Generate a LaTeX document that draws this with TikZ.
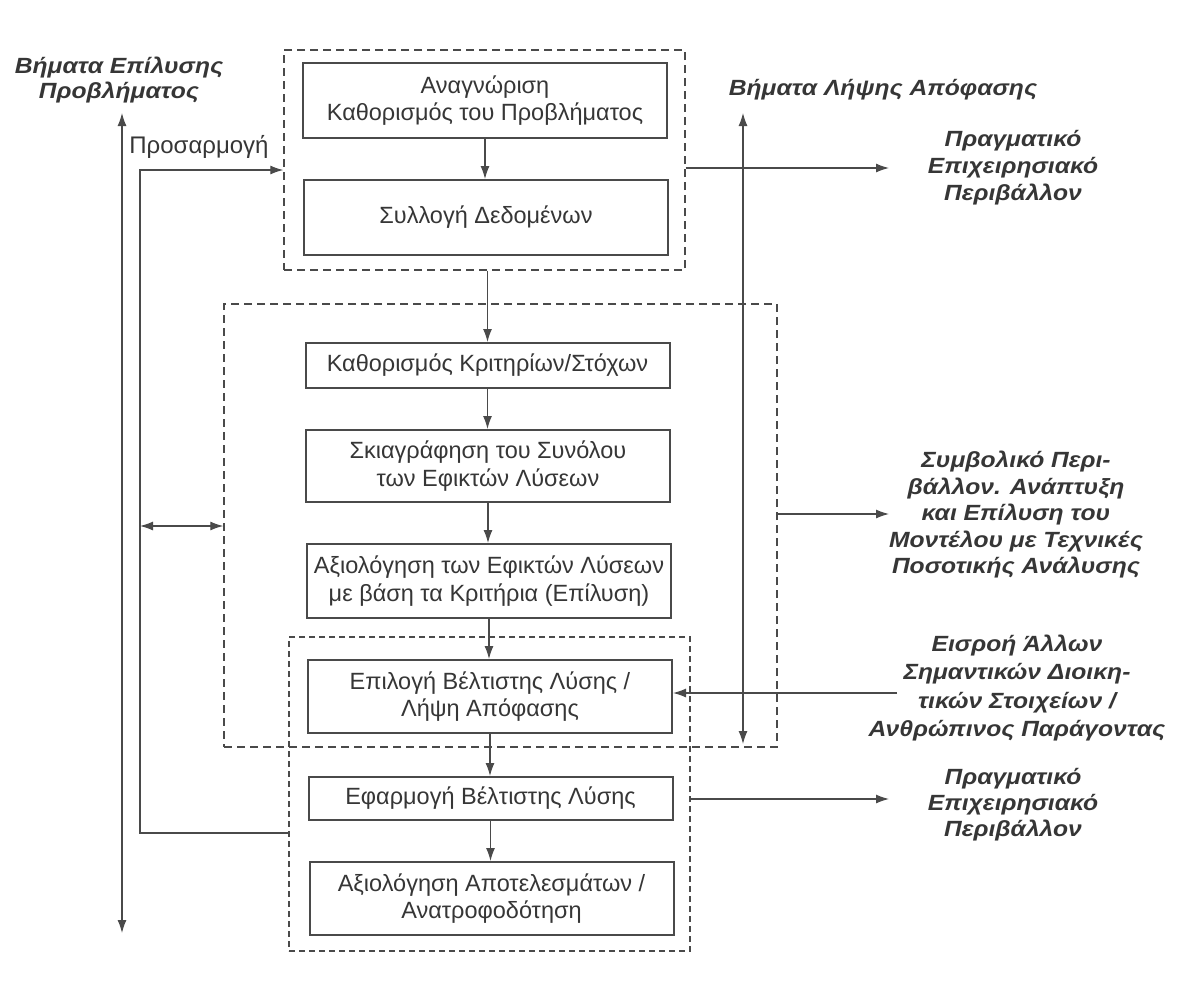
\documentclass[tikz,border=0pt]{standalone}
\usepackage{fontspec}
\setmainfont{Liberation Sans}
\newfontfamily\lblfont{Liberation Sans}[FakeStretch=1.12]
\usetikzlibrary{arrows.meta}
\definecolor{ink}{HTML}{363636}
\definecolor{edge}{HTML}{4A4A4A}
\tikzset{
  stepbox/.style={draw=edge, line width=2pt, minimum width=364pt, inner sep=1pt,
    align=center, font=\fontsize{23.5}{27.5}\selectfont, text=ink},
  grp/.style={draw=edge, line width=1.4pt, dash pattern=on 8pt off 5pt, inner sep=0pt},
  conn/.style={draw=edge, line width=1.2pt},
  tip/.style={-{Latex[length=13pt,width=9pt]}},
  both/.style={{Latex[length=13pt,width=9pt]}-{Latex[length=13pt,width=9pt]}},
  lbl/.style={font=\lblfont\bfseries\itshape\fontsize{22}{27}\selectfont, text=ink, align=center},
}
\begin{document}
\begin{tikzpicture}[x=1pt,y=-1pt]
\useasboundingbox[fill=white] (0,0) rectangle (1184,996);

% dashed groups
\node[grp, minimum width=401pt, minimum height=220pt] (g1) at (484.5,160) {};
\node[grp, minimum width=553pt, minimum height=443pt] (g2) at (500.5,525.5) {};
\node[grp, minimum width=401pt, minimum height=314pt, dash pattern=on 6pt off 4pt] (g3) at (489.5,794) {};

% steps
\node[stepbox, minimum height=75pt] (A) at (485,100.5) {Αναγνώριση\\Καθορισμός του Προβλήματος};
\node[stepbox, minimum height=75pt] (B) at (486,217.5) {Συλλογή Δεδομένων};
\node[stepbox, minimum height=45pt] (C) at (487.5,365.5) {Καθορισμός Κριτηρίων/Στόχων};
\node[stepbox, minimum height=72pt] (D) at (488,466) {Σκιαγράφηση του Συνόλου\\των Εφικτών Λύσεων};
\node[stepbox, minimum height=74pt] (E) at (489,581) {Αξιολόγηση των Εφικτών Λύσεων\\με βάση τα Κριτήρια (Επίλυση)};
\node[stepbox, minimum height=73pt] (F) at (490,696.5) {Επιλογή Βέλτιστης Λύσης /\\Λήψη Απόφασης};
\node[stepbox, minimum height=43pt] (G) at (490.5,798.5) {Εφαρμογή Βέλτιστης Λύσης};
\node[stepbox, minimum height=73pt] (H) at (491.5,898.5) {Αξιολόγηση Αποτελεσμάτων /\\Ανατροφοδότηση};

% vertical flow
\draw[conn,tip] (A.south) -- (A.south |- B.north);
\draw[conn,tip] (C.north |- g1.south) -- (C.north);
\draw[conn,tip] (C.south) -- (C.south |- D.north);
\draw[conn,tip] (D.south) -- (D.south |- E.north);
\draw[conn,tip] (E.south) -- (E.south |- F.north);
\draw[conn,tip] (F.south) -- (F.south |- G.north);
\draw[conn,tip] (G.south) -- (G.south |- H.north);

% left side
\coordinate (L1t) at (122,113);
\coordinate (L1b) at (122,933);
\draw[conn,both] (L1t) -- (L1b);
\coordinate (P1) at (140,833);
\coordinate (P2) at (140,170);
\draw[conn,tip] (g3.west |- P1) -- (P1) -- (P2) -- (g1.west |- P2);
\coordinate (L2m) at (140,526);
\draw[conn,both] (L2m) -- (g2.west |- L2m);

% right side
\coordinate (Rt) at (743,113);
\coordinate (Rb) at (743,744);
\draw[conn,both] (Rt) -- (Rb);
\coordinate (e1) at (889,168);
\draw[conn,tip] (g1.east |- e1) -- (e1);
\coordinate (e2) at (889,514);
\draw[conn,tip] (g2.east |- e2) -- (e2);
\coordinate (e3) at (897,693);
\draw[conn,tip] (e3) -- (F.east |- e3);
\coordinate (e4) at (889,799);
\draw[conn,tip] (g3.east |- e4) -- (e4);

% labels
\node[lbl, font=\lblfont\bfseries\itshape\fontsize{22}{25}\selectfont] (t1) at (119,80) {Βήματα Επίλυσης\\Προβλήματος};
\node[text=ink, font=\fontsize{24}{27}\selectfont] (t2) at (199,147) {Προσαρμογή};
\node[lbl] (t3) at (883,90) {Βήματα Λήψης Απόφασης};
\node[lbl] (t4) at (1013,168) {Πραγματικό\\Επιχειρησιακό\\Περιβάλλον};
\node[lbl, font=\lblfont\bfseries\itshape\fontsize{22}{26.5}\selectfont] (t5) at (1016,515) {Συμβολικό Περι-\\βάλλον. Ανάπτυξη\\και Επίλυση του\\Μοντέλου με Τεχνικές\\Ποσοτικής Ανάλυσης};
\node[lbl, font=\lblfont\bfseries\itshape\fontsize{22}{28.5}\selectfont] (t6) at (1017,688) {Εισροή Άλλων\\Σημαντικών Διοικη-\\τικών Στοιχείων /\\Ανθρώπινος Παράγοντας};
\node[lbl, font=\lblfont\bfseries\itshape\fontsize{22}{26}\selectfont] (t7) at (1013,805) {Πραγματικό\\Επιχειρησιακό\\Περιβάλλον};
\end{tikzpicture}
\end{document}
